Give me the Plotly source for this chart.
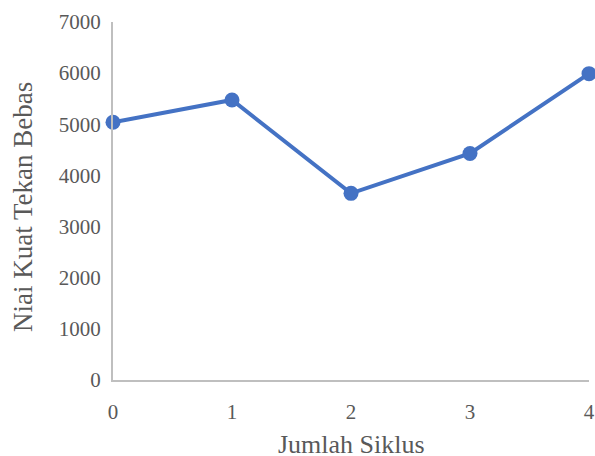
import plotly.graph_objects as go

siklus = [0, 1, 2, 3, 4]
kuat_tekan = [5040, 5475, 3650, 4430, 5990]
y_ticks = [0, 1000, 2000, 3000, 4000, 5000, 6000, 7000]
x_title = "Jumlah Siklus"
y_title = "Niai Kuat Tekan Bebas"

fig = go.Figure(go.Scatter(
    x=siklus, y=kuat_tekan, mode="lines+markers",
    line=dict(color="#4472C4", width=4),
    marker=dict(color="#4472C4", size=15),
    cliponaxis=False,
))

font = "Liberation Serif, Times New Roman, serif"
fig.update_layout(
    width=595, height=456,
    margin=dict(l=113, r=6, t=22, b=76),
    paper_bgcolor="white", plot_bgcolor="white",
    showlegend=False,
    font=dict(family=font, color="#595959", size=21),
)
fig.update_xaxes(
    range=[0, 4], tickvals=siklus, showgrid=False, zeroline=False,
    showline=True, linecolor="#BFBFBF", linewidth=2,
    ticks="", automargin=False, ticklabelstandoff=12,
    ticklabeloverflow="allow",
    tickfont=dict(size=21),
)
fig.update_yaxes(
    range=[0, 7000], tickvals=y_ticks, showgrid=False, zeroline=False,
    showline=True, linecolor="#BFBFBF", linewidth=2,
    ticks="", automargin=False, ticklabelstandoff=6,
    ticklabeloverflow="allow",
    tickfont=dict(size=21),
)
fig.add_annotation(
    text=x_title, xref="paper", yref="paper", x=0.5, y=-0.1788,
    xanchor="center", yanchor="middle", showarrow=False, borderpad=0,
    font=dict(size=26, color="#595959"),
)
fig.add_annotation(
    text=y_title, xref="paper", yref="paper", x=-0.189, y=0.4832,
    xanchor="center", yanchor="middle", showarrow=False, textangle=-90,
    font=dict(size=27, color="#595959"),
)
fig.write_html(
    "out.html",
    config={"displayModeBar": False},
    post_script="document.body.style.margin='0';document.body.style.overflow='hidden';",
)
